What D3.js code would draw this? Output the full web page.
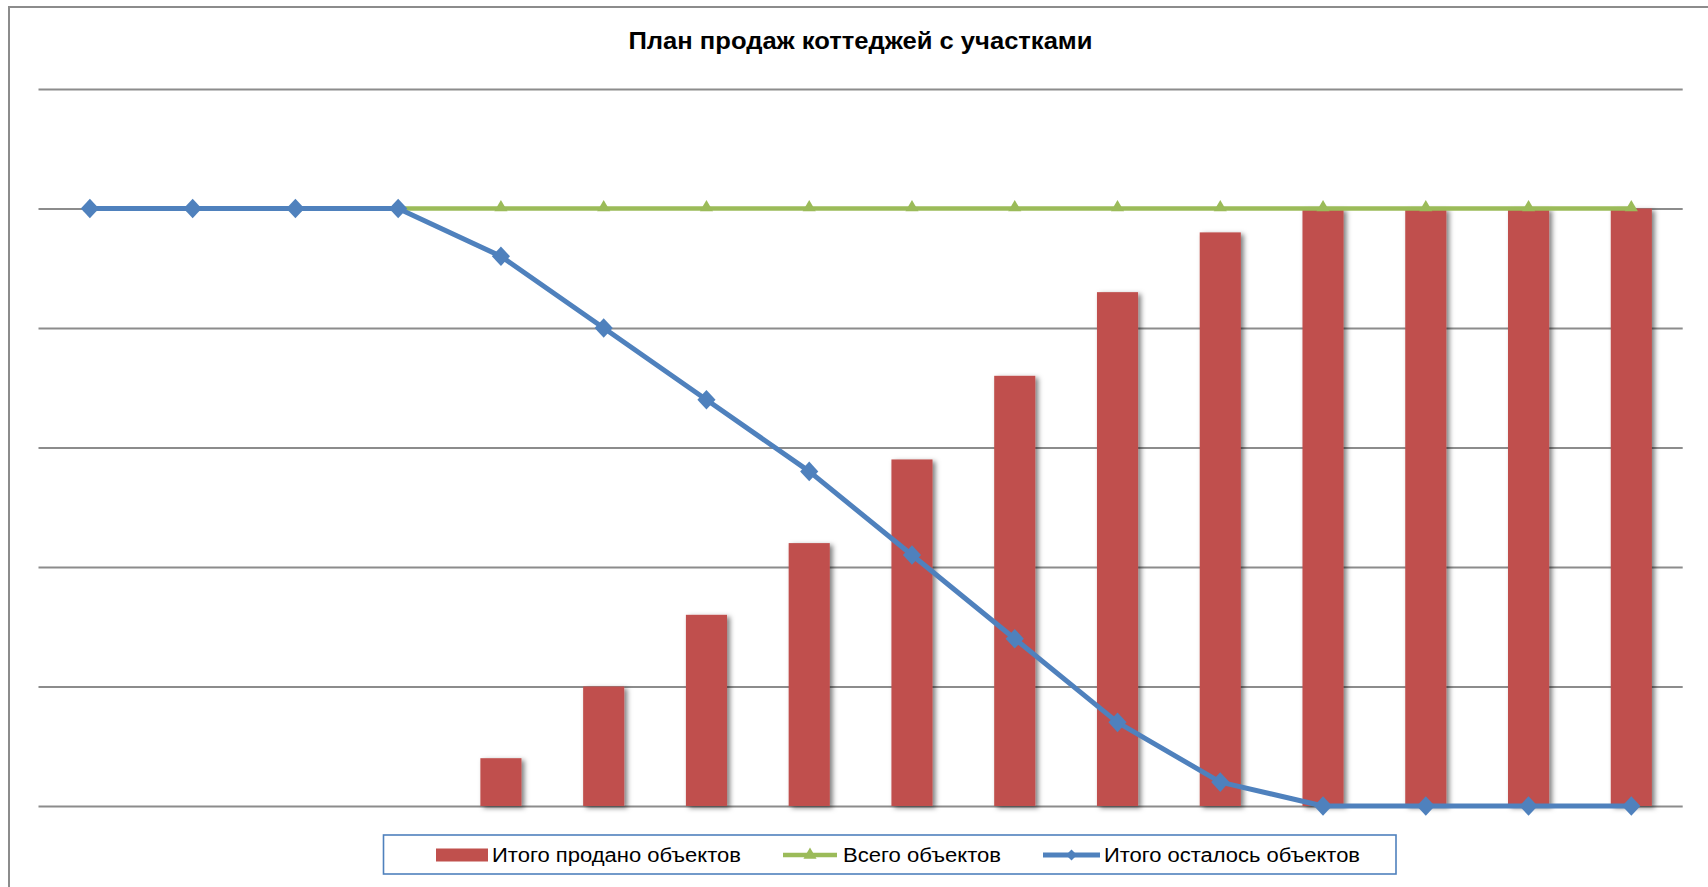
<!DOCTYPE html>
<html lang="ru">
<head>
<meta charset="utf-8">
<title>План продаж коттеджей с участками</title>
<script src="https://cdnjs.cloudflare.com/ajax/libs/d3/7.8.5/d3.min.js"></script>
<style>
  html, body { margin: 0; padding: 0; background: #ffffff; }
  svg { display: block; font-family: "Liberation Sans", Arial, sans-serif; }
</style>
</head>
<body>
<svg id="chart" width="1708" height="887"></svg>
<script>
// Sales periods (no axis labels are shown on the chart)
const periods = ["1", "2", "3", "4", "5", "6", "7", "8", "9", "10", "11", "12", "13", "14", "15", "16"];
// Cumulative number of sold objects
const soldTotal = [0, 0, 0, 0, 4, 10, 16, 22, 29, 36, 43, 48, 50, 50, 50, 50];
// Total number of objects
const allObjects = [50, 50, 50, 50, 50, 50, 50, 50, 50, 50, 50, 50, 50, 50, 50, 50];
// Objects still remaining
const remaining = [50, 50, 50, 50, 46, 40, 34, 28, 21, 14, 7, 2, 0, 0, 0, 0];
// Value gridlines
const gridValues = [0, 10, 20, 30, 40, 50, 60];

const chartTitle = "План продаж коттеджей с участками";
const legendLabels = ["Итого продано объектов", "Всего объектов", "Итого осталось объектов"];

const colors = { sold: "#C0504D", all: "#9BBB59", left: "#4F81BD", grid: "#8C8C8C" };

const svg = d3.select("#chart");
const W = 1708, H = 887;
const plot = { left: 38.5, right: 1682.7, top: 89, bottom: 806 };

// Shadow used by the bars
const defs = svg.append("defs");
const shadow = defs.append("filter").attr("id", "barShadow")
  .attr("x", "-30%").attr("y", "-10%").attr("width", "170%").attr("height", "130%");
shadow.append("feDropShadow")
  .attr("dx", 3).attr("dy", 2).attr("stdDeviation", 2.8)
  .attr("flood-color", "#000").attr("flood-opacity", 0.5);

// Chart frame
svg.append("rect")
  .attr("x", 9).attr("y", 7).attr("width", W + 20).attr("height", H + 20)
  .attr("fill", "#fff").attr("stroke", "#8C8C8C").attr("stroke-width", 2);

const x = d3.scaleBand().domain(periods).range([plot.left, plot.right]).padding(0);
const y = d3.scaleLinear().domain([0, 60]).range([plot.bottom, plot.top]);
const cx = p => x(p) + x.bandwidth() / 2;
const barW = x.bandwidth() * 0.4;

// Gridlines drawn via a D3 axis with full-width ticks
const yAxis = d3.axisLeft(y).tickValues(gridValues)
  .tickSize(-(plot.right - plot.left)).tickFormat("");
const gAxis = svg.append("g")
  .attr("transform", `translate(${plot.left},0)`)
  .call(yAxis);
gAxis.select(".domain").remove();
gAxis.selectAll(".tick line")
  .attr("stroke", colors.grid).attr("stroke-width", 2);

// Title
svg.append("text")
  .attr("x", 860.5).attr("y", 49)
  .attr("text-anchor", "middle")
  .attr("font-size", 23).attr("font-weight", "bold").attr("fill", "#000")
  .attr("textLength", 464).attr("lengthAdjust", "spacingAndGlyphs")
  .text(chartTitle);

// Bars: cumulative sold
svg.append("g").attr("filter", "url(#barShadow)")
  .selectAll("rect")
  .data(periods.map((p, i) => ({ p, v: soldTotal[i] })).filter(d => d.v > 0))
  .join("rect")
  .attr("x", d => cx(d.p) - barW / 2)
  .attr("width", barW)
  .attr("y", d => y(d.v))
  .attr("height", d => y(0) - y(d.v))
  .attr("fill", colors.sold);

const line = d3.line().x(d => cx(d.p)).y(d => y(d.v));
const tri = d3.symbol().type(d3.symbolTriangle).size(75);
// Diamond markers: a square turned by 45 degrees
const sq = d3.symbol().type(d3.symbolSquare).size(165);

// Total objects line
const allData = periods.map((p, i) => ({ p, v: allObjects[i] }));
svg.append("path").datum(allData)
  .attr("d", line).attr("fill", "none")
  .attr("stroke", colors.all).attr("stroke-width", 4.5);
svg.append("g").selectAll("path").data(allData).join("path")
  .attr("d", tri)
  .attr("transform", d => `translate(${cx(d.p)},${y(d.v) - 1})`)
  .attr("fill", colors.all);

// Remaining objects line
const leftData = periods.map((p, i) => ({ p, v: remaining[i] }));
svg.append("path").datum(leftData)
  .attr("d", line).attr("fill", "none")
  .attr("stroke", colors.left).attr("stroke-width", 5)
  .attr("stroke-linejoin", "round");
svg.append("g").selectAll("path").data(leftData).join("path")
  .attr("d", sq)
  .attr("transform", d => `translate(${cx(d.p)},${y(d.v)}) scale(1,1.08) rotate(45)`)
  .attr("fill", colors.left);

// Legend
const lg = svg.append("g");
lg.append("rect")
  .attr("x", 383.5).attr("y", 835).attr("width", 1012.5).attr("height", 39)
  .attr("fill", "#fff").attr("stroke", "#4F81BD").attr("stroke-width", 1.6);

const ly = 855;
lg.append("rect").attr("x", 436).attr("y", 848.5).attr("width", 52).attr("height", 13)
  .attr("fill", colors.sold);
lg.append("line").attr("x1", 783).attr("x2", 837).attr("y1", ly).attr("y2", ly)
  .attr("stroke", colors.all).attr("stroke-width", 4.5);
lg.append("path").attr("d", tri).attr("transform", `translate(810,${ly})`).attr("fill", colors.all);
lg.append("line").attr("x1", 1043).attr("x2", 1100).attr("y1", ly).attr("y2", ly)
  .attr("stroke", colors.left).attr("stroke-width", 5);
lg.append("path").attr("d", d3.symbol().type(d3.symbolSquare).size(60))
  .attr("transform", `translate(1071.5,${ly}) rotate(45)`).attr("fill", colors.left);

const legendText = [
  { x: 492, w: 249 },
  { x: 843, w: 158 },
  { x: 1104, w: 256 }
];
lg.selectAll("text.lbl").data(legendLabels).join("text")
  .attr("class", "lbl")
  .attr("x", (d, i) => legendText[i].x)
  .attr("y", 862)
  .attr("font-size", 19.5).attr("fill", "#000")
  .attr("textLength", (d, i) => legendText[i].w)
  .attr("lengthAdjust", "spacingAndGlyphs")
  .text(d => d);
</script>
</body>
</html>
